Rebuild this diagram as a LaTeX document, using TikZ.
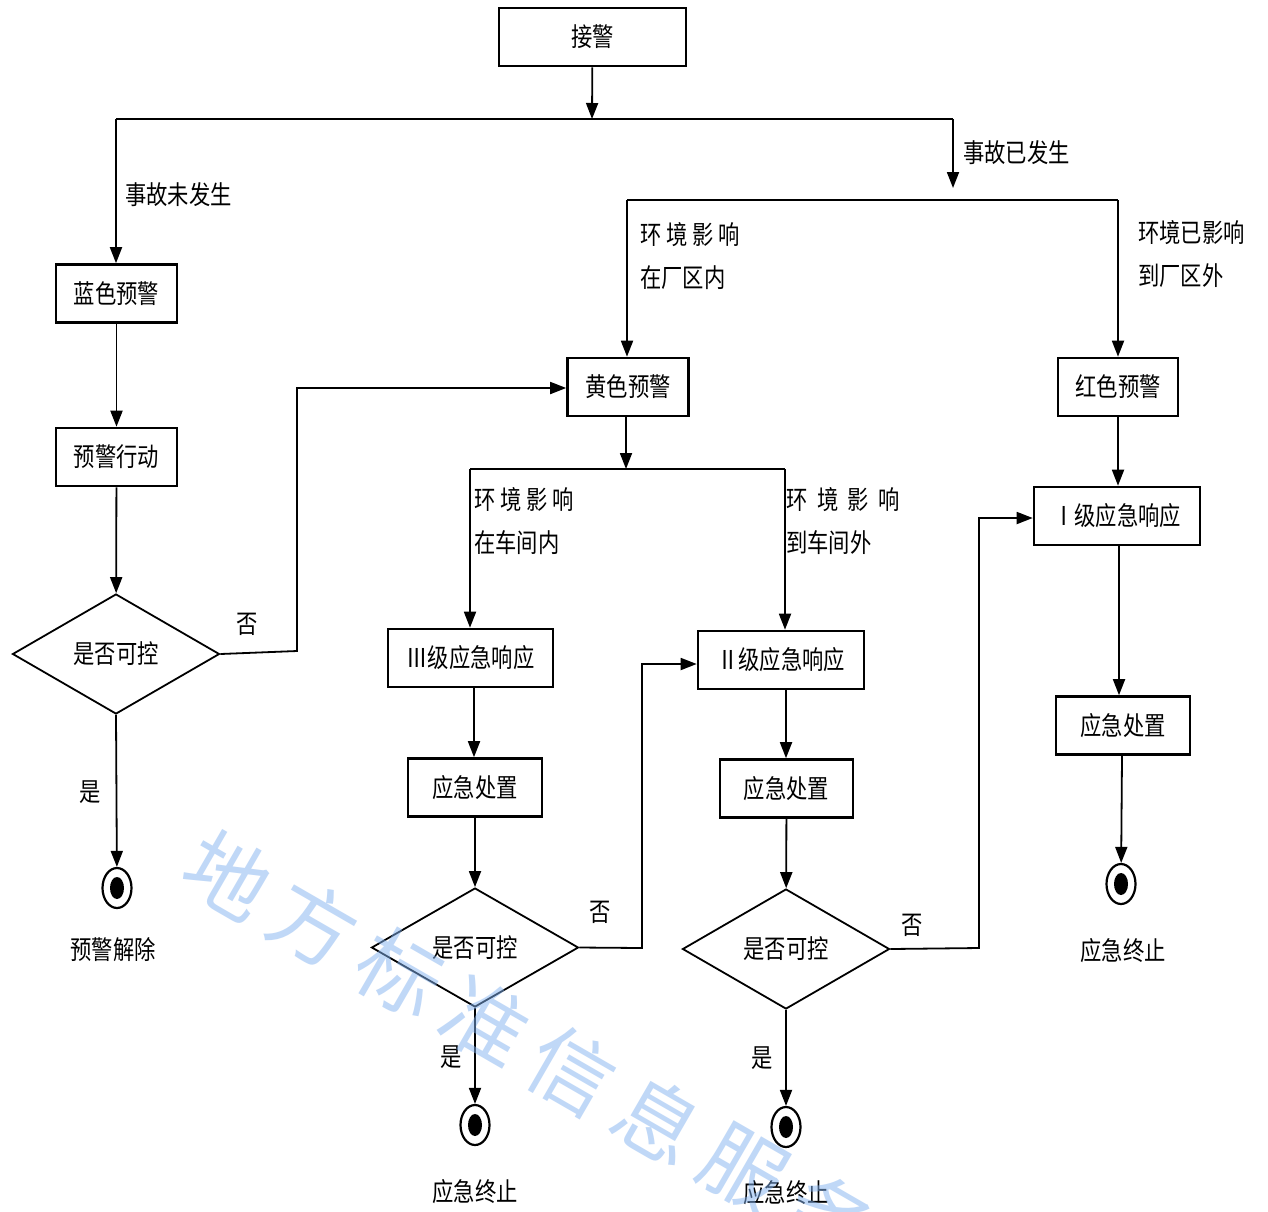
\documentclass[tikz,border=0pt]{standalone}
\usepackage{fontspec}
\usetikzlibrary{arrows.meta,shapes.geometric,calc}
\newfontfamily\cjk[FakeStretch=0.82]{Noto Sans CJK SC}
\newfontfamily\cjkwm{Noto Sans CJK SC}
\definecolor{wmblue}{RGB}{130,178,240}
\tikzset{
 box/.style={draw, line width=2.6pt, inner sep=0pt, minimum height=58pt, font=\cjk\fontsize{26}{30}\selectfont},
 dia/.style={draw, diamond, line width=1.8pt, inner sep=0pt, minimum width=207pt, minimum height=120pt, font=\cjk\fontsize{26}{30}\selectfont},
 lbl/.style={inner sep=0pt, font=\cjk\fontsize{26}{43}\selectfont, align=left},
 con/.style={line width=1.8pt},
 arr/.style={con, -{Triangle[length=16pt,width=12pt]}},
 endmark/.style={draw, ellipse, line width=2.2pt, minimum width=29pt, minimum height=40pt, inner sep=0pt,
   path picture={\fill[black] (path picture bounding box.center) ellipse [x radius=7pt, y radius=11pt];}},
 wm/.style={inner sep=0pt, text=wmblue, opacity=0.5, rotate=-30, font=\cjkwm\fontsize{84}{84}\selectfont}
}
\begin{document}
\begin{tikzpicture}[x=1pt,y=-1pt]
\path[use as bounding box, fill=white] (0,0) rectangle (1268,1211);

% boxes
\node[box, minimum width=187pt] (jj) at (592.5,37) {接警};
\node[box, minimum width=121pt] (blue) at (116.5,293.5) {蓝色预警};
\node[box, minimum width=121pt] (yjxd) at (116.5,457) {预警行动};
\node[box, minimum width=121pt] (yellow) at (628,387) {黄色预警};
\node[box, minimum width=120pt] (red) at (1118,387) {红色预警};
\node[box, minimum width=165pt] (l3) at (470.5,658) {Ⅲ级应急响应};
\node[box, minimum width=166pt] (l2) at (781,660) {Ⅱ级应急响应};
\node[box, minimum width=166pt] (l1) at (1117,516) {Ⅰ级应急响应};
\node[box, minimum width=134pt] (cz3) at (475,787.5) {应急处置};
\node[box, minimum width=133pt] (cz2) at (786.5,788.5) {应急处置};
\node[box, minimum width=134pt] (cz1) at (1123,725.5) {应急处置};

% decisions
\node[dia] (d1) at (116,654) {是否可控};
\node[dia, minimum height=119pt] (d2) at (475,947.5) {是否可控};
\node[dia] (d3) at (786,949) {是否可控};

% end markers
\node[endmark] (e1) at (117,888) {};
\node[endmark] (e2) at (475,1125) {};
\node[endmark] (e3) at (786,1127) {};
\node[endmark] (e4) at (1121,884) {};

% coordinates
\coordinate (s1) at (592,119);
\coordinate (tl) at (116,119);
\coordinate (tr) at (953,119);
\coordinate (ta) at (953,188);
\coordinate (ml) at (627,200);
\coordinate (mr) at (1118,200);
\coordinate (s2) at (626,469);
\coordinate (bl) at (470,469);
\coordinate (br) at (785,469);
\coordinate (n1) at (297,651);
\coordinate (n1t) at (297,388);
\coordinate (n2) at (642,948);
\coordinate (n2t) at (642,664);
\coordinate (n3) at (979,948);
\coordinate (n3t) at (979,518);

% connectors
\draw[arr] (jj) -- (s1);
\draw[con] (tl) -- (tr);
\draw[arr] (tl) -- (tl |- blue.north);
\draw[arr] (tr) -- (ta);
\draw[con] (ml) -- (mr);
\draw[arr] (ml) -- (ml |- yellow.north);
\draw[arr] (mr) -- (mr |- red.north);
\draw[arr] (yellow.south -| s2) -- (s2);
\draw[con] (bl) -- (br);
\draw[arr] (bl) -- (bl |- l3.north);
\draw[arr] (br) -- (br |- l2.north);
\draw[arr] (red) -- (red |- l1.north);
\draw[arr] (blue) -- (yjxd);
\draw[arr] (yjxd) -- (d1);
\draw[arr] (d1.east) -- (n1) -- (n1t) -- (n1t -| yellow.west);
\draw[arr] (d1.south) -- (e1);
\draw[arr] (l3.south -| 474,0) -- (cz3.north -| 474,0);
\draw[arr] (cz3) -- (d2);
\draw[arr] (d2.east) -- (n2) -- (n2t) -- (n2t -| l2.west);
\draw[arr] (d2.south) -- (e2);
\draw[arr] (l2.south -| 786,0) -- (cz2.north -| 786,0);
\draw[arr] (cz2) -- (d3);
\draw[arr] (d3.east) -- (n3) -- (n3t) -- (n3t -| l1.west);
\draw[arr] (d3.south) -- (e3);
\draw[arr] (l1.south -| 1119,0) -- (cz1.north -| 1119,0);
\draw[arr] (cz1.south -| 1122,0) -- (e4);

% labels
\node[lbl, anchor=west] (t1) at (125,195) {事故未发生};
\node[lbl, anchor=west] (t2) at (963,153) {事故已发生};
\node[lbl, anchor=west] (t3) at (640,256.5) {环 境 影 响\\在厂区内};
\node[lbl, anchor=west] (t4) at (1138,254) {环境已影响\\到厂区外};
\node[lbl, anchor=west] (t5) at (474,521) {环 境 影 响\\在车间内};
\node[lbl, anchor=west] (t6) at (786,521) {环\ \ 境\ \ 影\ \ 响\\到车间外};
\node[lbl] (f1) at (247,624) {否};
\node[lbl] (y1) at (90,792) {是};
\node[lbl] (f2) at (600,912) {否};
\node[lbl] (y2) at (451,1057) {是};
\node[lbl] (f3) at (912,925) {否};
\node[lbl] (y3) at (762,1058) {是};
\node[lbl] (x1) at (113,950) {预警解除};
\node[lbl] (x2) at (475,1192) {应急终止};
\node[lbl] (x3) at (786,1193) {应急终止};
\node[lbl] (x4) at (1123,951) {应急终止};

% watermark
\foreach \c [count=\i] in {地,方,标,准,信,息,服,务}
  \node[wm] (wm\i) at ({228+86*(\i-1)},{875+49*(\i-1)}) {\c};
\end{tikzpicture}
\end{document}
